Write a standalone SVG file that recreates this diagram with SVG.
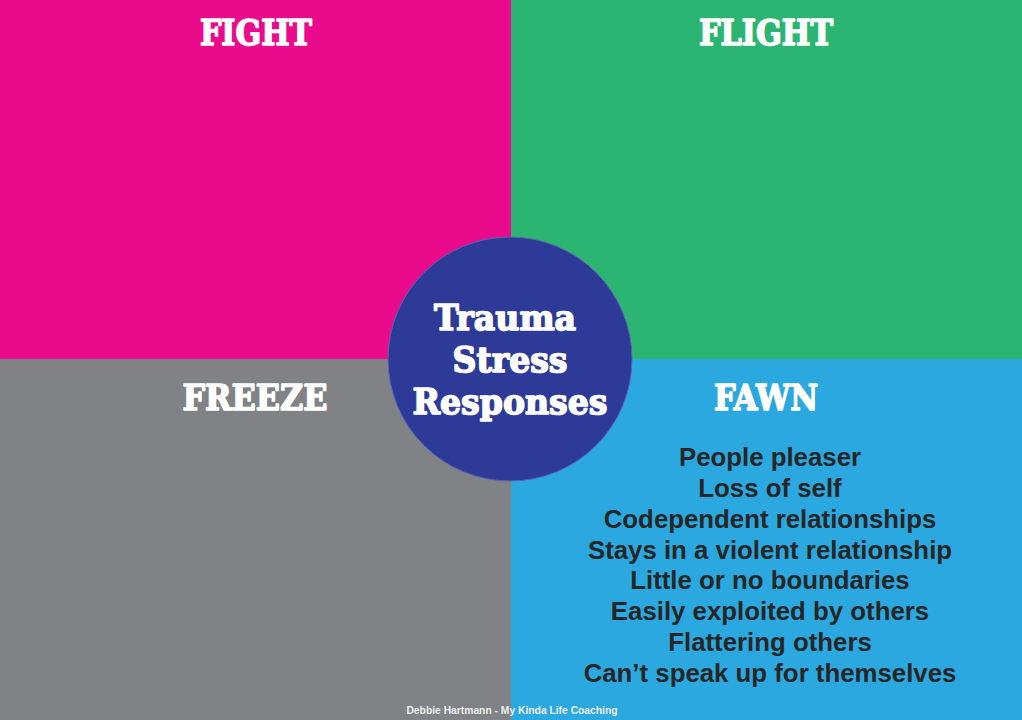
<svg xmlns="http://www.w3.org/2000/svg" width="1022" height="720" viewBox="0 0 1022 720">
<defs>
<style>
.title{font-family:"DejaVu Serif","Liberation Serif",serif;font-weight:bold;fill:#ffffff;stroke:#ffffff;stroke-width:1.6px;stroke-linejoin:round;text-anchor:middle}
.item{font-family:"Liberation Sans",Arial,sans-serif;font-weight:bold;font-size:25.8px;fill:#262626;text-anchor:middle}
.center{font-family:"DejaVu Serif","Liberation Serif",serif;font-weight:bold;fill:#ffffff;stroke:#ffffff;stroke-width:1.6px;stroke-linejoin:round;text-anchor:middle}
.foot{font-family:"Liberation Sans",Arial,sans-serif;font-weight:bold;font-size:10.3px;fill:#eeeeee;text-anchor:middle}
</style>
</defs>
<g id="fight">
<rect x="0" y="0" width="511" height="359" fill="#EA0A8C"/>
<text class="title" x="256" y="45" font-size="36" textLength="112" lengthAdjust="spacingAndGlyphs">FIGHT</text>
</g>
<g id="flight">
<rect x="511" y="0" width="511" height="359" fill="#2CB572"/>
<text class="title" x="766" y="45" font-size="36" textLength="134" lengthAdjust="spacingAndGlyphs">FLIGHT</text>
</g>
<g id="freeze">
<rect x="0" y="359" width="511" height="361" fill="#808285"/>
<text class="title" x="255" y="410" font-size="36" textLength="145" lengthAdjust="spacingAndGlyphs">FREEZE</text>
</g>
<g id="fawn">
<rect x="511" y="359" width="511" height="361" fill="#2BA8E0"/>
<text class="title" x="766" y="410" font-size="36" textLength="104" lengthAdjust="spacingAndGlyphs">FAWN</text>
<text class="item" x="770" y="466">People pleaser</text>
<text class="item" x="770" y="497">Loss of self</text>
<text class="item" x="770" y="528">Codependent relationships</text>
<text class="item" x="770" y="559">Stays in a violent relationship</text>
<text class="item" x="770" y="589">Little or no boundaries</text>
<text class="item" x="770" y="620">Easily exploited by others</text>
<text class="item" x="770" y="651">Flattering others</text>
<text class="item" x="770" y="682">Can’t speak up for themselves</text>
</g>
<g id="center">
<circle cx="510" cy="359" r="122" fill="#2E3A97" stroke="#5a64b0" stroke-width="1"/>
<text class="center" x="505" y="330" font-size="36" textLength="142" lengthAdjust="spacingAndGlyphs">Trauma</text>
<text class="center" x="510" y="372" font-size="36" textLength="115" lengthAdjust="spacingAndGlyphs">Stress</text>
<text class="center" x="510" y="414" font-size="36" textLength="195" lengthAdjust="spacingAndGlyphs">Responses</text>
</g>
<g id="connectors"></g>
<text class="foot" x="512" y="714">Debbie Hartmann - My Kinda Life Coaching</text>
</svg>
